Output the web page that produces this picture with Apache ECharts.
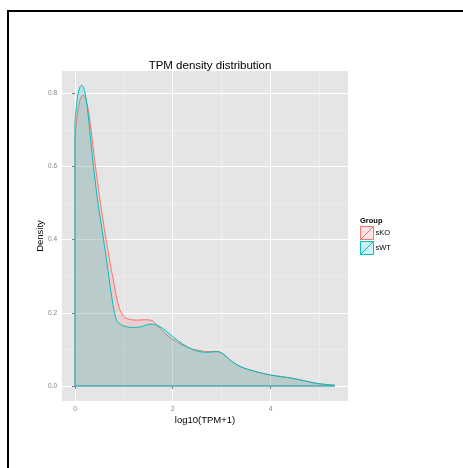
<!DOCTYPE html>
<html>
<head>
<meta charset="utf-8">
<script src="https://cdn.jsdelivr.net/npm/echarts@6/dist/echarts.min.js"></script>
<style>
  html, body { margin: 0; padding: 0; background: #fff; }
  #chart { position: absolute; left: 0; top: 0; width: 463px; height: 468px; }
  #frame { position: absolute; left: 7px; top: 10px; right: 0; bottom: 0;
           border-left: 2px solid #000; border-top: 2px solid #000; pointer-events: none; }
</style>
</head>
<body>
<div id="chart"></div>
<div id="frame"></div>
<script>
// density estimates, x = log10(TPM+1)
const koX = [0, 0.05, 0.1, 0.16, 0.22, 0.3, 0.4, 0.5, 0.6, 0.7, 0.8, 0.9, 1.0, 1.1, 1.25, 1.4, 1.55, 1.7, 1.85, 2.0, 2.2, 2.4, 2.6, 2.75, 2.9, 3.05, 3.2, 3.4, 3.6, 3.8, 4.0, 4.2, 4.45, 4.7, 4.95, 5.15, 5.32]
const koDensity = [0.68, 0.745, 0.78, 0.795, 0.785, 0.73, 0.62, 0.52, 0.43, 0.35, 0.28, 0.215, 0.19, 0.183, 0.18, 0.181, 0.18, 0.163, 0.143, 0.127, 0.112, 0.101, 0.096, 0.094, 0.095, 0.086, 0.068, 0.052, 0.043, 0.036, 0.03, 0.026, 0.021, 0.014, 0.007, 0.004, 0.002]
const wtX = [0, 0.05, 0.1, 0.14, 0.2, 0.27, 0.35, 0.45, 0.55, 0.65, 0.75, 0.85, 0.95, 1.05, 1.18, 1.35, 1.55, 1.7, 1.85, 2.0, 2.2, 2.4, 2.55, 2.7, 2.9, 3.05, 3.2, 3.4, 3.6, 3.8, 4.0, 4.2, 4.45, 4.7, 4.95, 5.15, 5.32]
const wtDensity = [0.72, 0.79, 0.817, 0.822, 0.805, 0.74, 0.635, 0.52, 0.43, 0.34, 0.245, 0.18, 0.167, 0.162, 0.16, 0.162, 0.169, 0.165, 0.152, 0.135, 0.115, 0.1, 0.094, 0.092, 0.094, 0.086, 0.068, 0.052, 0.043, 0.036, 0.03, 0.026, 0.021, 0.014, 0.007, 0.004, 0.002]
const xTicks = [0, 2, 4]
const xMinor = [1, 3, 5]
const yTicks = [0, 0.2, 0.4, 0.6, 0.8]
const yMinor = [0.1, 0.3, 0.5, 0.7]
const groups = ['sKO', 'sWT']
const colors = ['#F8766D', '#00BFC4']
const fills = ['rgba(248,118,109,0.2)', 'rgba(0,191,196,0.2)']

const font = 'Liberation Sans, Arial, sans-serif'
const chart = echarts.init(document.getElementById('chart'))

const zip = (xs, ys) => xs.map((x, i) => [x, ys[i]])

function densitySeries(name, xs, ys, i) {
  return [
    {
      name: name,
      type: 'line',
      smooth: 0.35,
      symbol: 'none',
      lineStyle: { color: colors[i], width: 1 },
      itemStyle: { color: colors[i] },
      areaStyle: { color: fills[i], opacity: 1 },
      data: zip(xs, ys),
      z: 3 + i * 2
    },
    {
      // outline along the left edge and the baseline
      name: name,
      type: 'line',
      symbol: 'none',
      lineStyle: { color: colors[i], width: 1 },
      itemStyle: { color: colors[i] },
      data: [[xs[0], ys[0]], [xs[0], 0], [xs[xs.length - 1], 0]],
      z: 4 + i * 2
    }
  ]
}

const hidden = {
  axisLine: { show: false },
  axisTick: { show: false },
  axisLabel: { show: false }
}

const option = {
  animation: false,
  title: {
    text: 'TPM density distribution',
    left: 205,
    textAlign: 'center',
    top: 55,
    textStyle: { fontFamily: font, fontSize: 11.5, fontWeight: 'normal', color: '#000' }
  },
  legend: {
    left: 355,
    top: 221,
    orient: 'vertical',
    itemWidth: 13,
    itemHeight: 13,
    itemGap: 1,
    icon: 'path://M0,0H10V10H0Z M0,10L10,0',
    data: groups.map((g, i) => ({
      name: g,
      itemStyle: { color: fills[i], borderColor: colors[i], borderWidth: 1 }
    })),
    textStyle: { fontFamily: font, fontSize: 7.5, color: '#000', padding: [0, 0, 0, -3] }
  },
  graphic: [
    {
      type: 'text',
      left: 360,
      top: 217,
      style: { text: 'Group', font: 'bold 7.5px ' + font, fill: '#000' }
    }
  ],
  grid: { left: 62, right: 115, top: 71, bottom: 67, backgroundColor: '#E5E5E5', show: true, borderWidth: 0 },
  xAxis: [
    {
      type: 'value',
      min: -0.266,
      max: 5.586,
      name: 'log10(TPM+1)',
      nameLocation: 'middle',
      nameGap: 14,
      nameMoveOverlap: false,
      nameTextStyle: { fontFamily: font, fontSize: 9.5, color: '#000' },
      axisLine: { show: false },
      axisTick: { show: true, length: 3, customValues: xTicks, lineStyle: { color: '#7F7F7F' } },
      axisLabel: { customValues: xTicks, margin: 5, fontFamily: font, fontSize: 6.5, color: '#7F7F7F' },
      splitLine: { show: true, lineStyle: { color: '#fff', width: 1 } },
      z: 2
    },
    Object.assign({
      type: 'value',
      min: -0.266,
      max: 5.586,
      position: 'top',
      splitLine: { show: true, lineStyle: { color: '#F2F2F2', width: 0.6 } },
      z: 1
    }, hidden, { axisTick: { show: false, customValues: xMinor } })
  ],
  yAxis: [
    {
      type: 'value',
      min: -0.041,
      max: 0.861,
      name: 'Density',
      nameLocation: 'middle',
      nameGap: 17,
      nameMoveOverlap: false,
      nameTextStyle: { fontFamily: font, fontSize: 9.5, color: '#000' },
      axisLine: { show: false },
      axisTick: { show: true, length: 3, customValues: yTicks, lineStyle: { color: '#7F7F7F' } },
      axisLabel: {
        customValues: yTicks,
        margin: 5,
        fontFamily: font,
        fontSize: 6.5,
        color: '#7F7F7F',
        formatter: v => v.toFixed(1)
      },
      splitLine: { show: true, lineStyle: { color: '#fff', width: 1 } },
      z: 2
    },
    Object.assign({
      type: 'value',
      min: -0.041,
      max: 0.861,
      position: 'right',
      splitLine: { show: true, lineStyle: { color: '#F2F2F2', width: 0.6 } },
      z: 1
    }, hidden, { axisTick: { show: false, customValues: yMinor } })
  ],
  series: [
    ...densitySeries(groups[0], koX, koDensity, 0),
    ...densitySeries(groups[1], wtX, wtDensity, 1)
  ]
}

chart.setOption(option)
</script>
</body>
</html>
